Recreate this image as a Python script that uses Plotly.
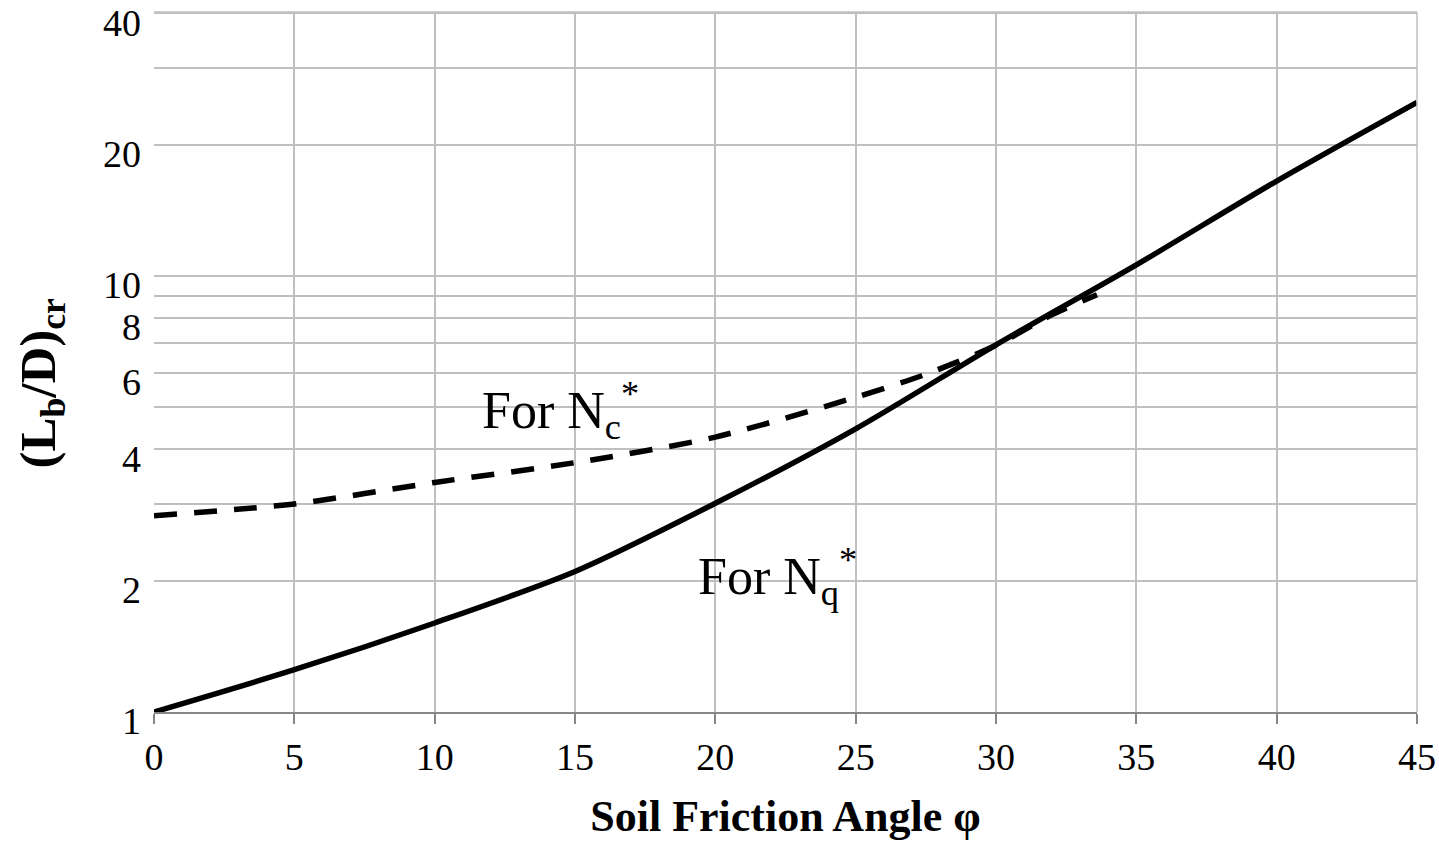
import math
import plotly.graph_objects as go

# ---- data ----
phi_nq = [0, 5, 10, 15, 20, 25, 30, 35, 40, 45]
lbd_nq = [1.0, 1.25, 1.60, 2.10, 3.01, 4.46, 6.95, 10.6, 16.5, 25.0]

phi_nc = [0, 5, 10, 15, 20, 25, 27.5, 30, 32, 33.6]
lbd_nc = [2.82, 3.0, 3.36, 3.73, 4.27, 5.27, 5.95, 6.93, 8.15, 9.05]

x_ticks = [0, 5, 10, 15, 20, 25, 30, 35, 40, 45]
y_ticks = [1, 2, 4, 6, 8, 10, 20, 40]
y_minor_grid = [3, 5, 7, 9, 30]

FONT = "Liberation Serif, Times New Roman, serif"

fig = go.Figure()
fig.add_trace(go.Scatter(
    x=phi_nc, y=lbd_nc, mode="lines",
    line=dict(color="black", width=5.5, dash="23px,17px", shape="spline", smoothing=0.8),
    showlegend=False, hoverinfo="skip"))
fig.add_trace(go.Scatter(
    x=phi_nq, y=lbd_nq, mode="lines",
    line=dict(color="black", width=5.5, shape="spline", smoothing=0.8),
    showlegend=False, hoverinfo="skip"))

fig.add_annotation(x=11.6, y=math.log10(4.9), xref="x", yref="y",
                   text="For N<sub>c</sub><sup>*</sup>", showarrow=False,
                   xanchor="left", yanchor="middle",
                   font=dict(family=FONT, size=52, color="black"))
fig.add_annotation(x=19.3, y=math.log10(2.05), xref="x", yref="y",
                   text="For N<sub>q</sub><sup>*</sup>", showarrow=False,
                   xanchor="left", yanchor="middle",
                   font=dict(family=FONT, size=52, color="black"))
# y-axis title
fig.add_annotation(x=-0.089, y=0.47, xref="paper", yref="paper",
                   text="<b>(L<sub>b</sub>/D)<sub>cr</sub></b>", showarrow=False,
                   textangle=-90, xanchor="center", yanchor="middle",
                   font=dict(family=FONT, size=51, color="black"))

fig.update_layout(
    width=1439, height=846,
    margin=dict(l=154, r=22, t=12, b=134),
    paper_bgcolor="white", plot_bgcolor="white",
    font=dict(family=FONT, color="black"),
    xaxis=dict(
        range=[0, 45], tickvals=x_ticks, ticktext=[str(v) for v in x_ticks],
        showgrid=True, gridcolor="#bfbfbf", gridwidth=1.5,
        showline=True, linecolor="#868686", linewidth=2,
        ticks="outside", ticklen=10, tickcolor="#868686", tickwidth=2,
        ticklabelstandoff=0, automargin=False,
        tickfont=dict(family=FONT, size=38, color="black"),
        title=dict(text="<b>Soil Friction Angle φ</b>",
                   font=dict(family=FONT, size=44, color="black"), standoff=24),
        zeroline=False, mirror=False,
    ),
    yaxis=dict(
        type="log", range=[0, math.log10(40) + 0.003],
        tickvals=y_ticks, ticktext=[str(v) for v in y_ticks],
        showgrid=True, gridcolor="#bfbfbf", gridwidth=1.5,
        minor=dict(tickvals=y_minor_grid, showgrid=True,
                   gridcolor="#bfbfbf", gridwidth=1.5, ticks=""),
        showline=False, ticks="", ticklabelstandoff=12,
        ticklabelshift=9,
        ticklabeloverflow="allow", automargin=False,
        tickfont=dict(family=FONT, size=38, color="black"),
        zeroline=False,
    ),
    shapes=[
        dict(type="line", xref="paper", yref="paper", x0=0, x1=1, y0=1, y1=1,
             line=dict(color="#bfbfbf", width=1.5)),
        dict(type="line", xref="paper", yref="paper", x0=1, x1=1, y0=0, y1=1,
             line=dict(color="#bfbfbf", width=1.5)),
    ],
)

fig.write_html("out.html")
